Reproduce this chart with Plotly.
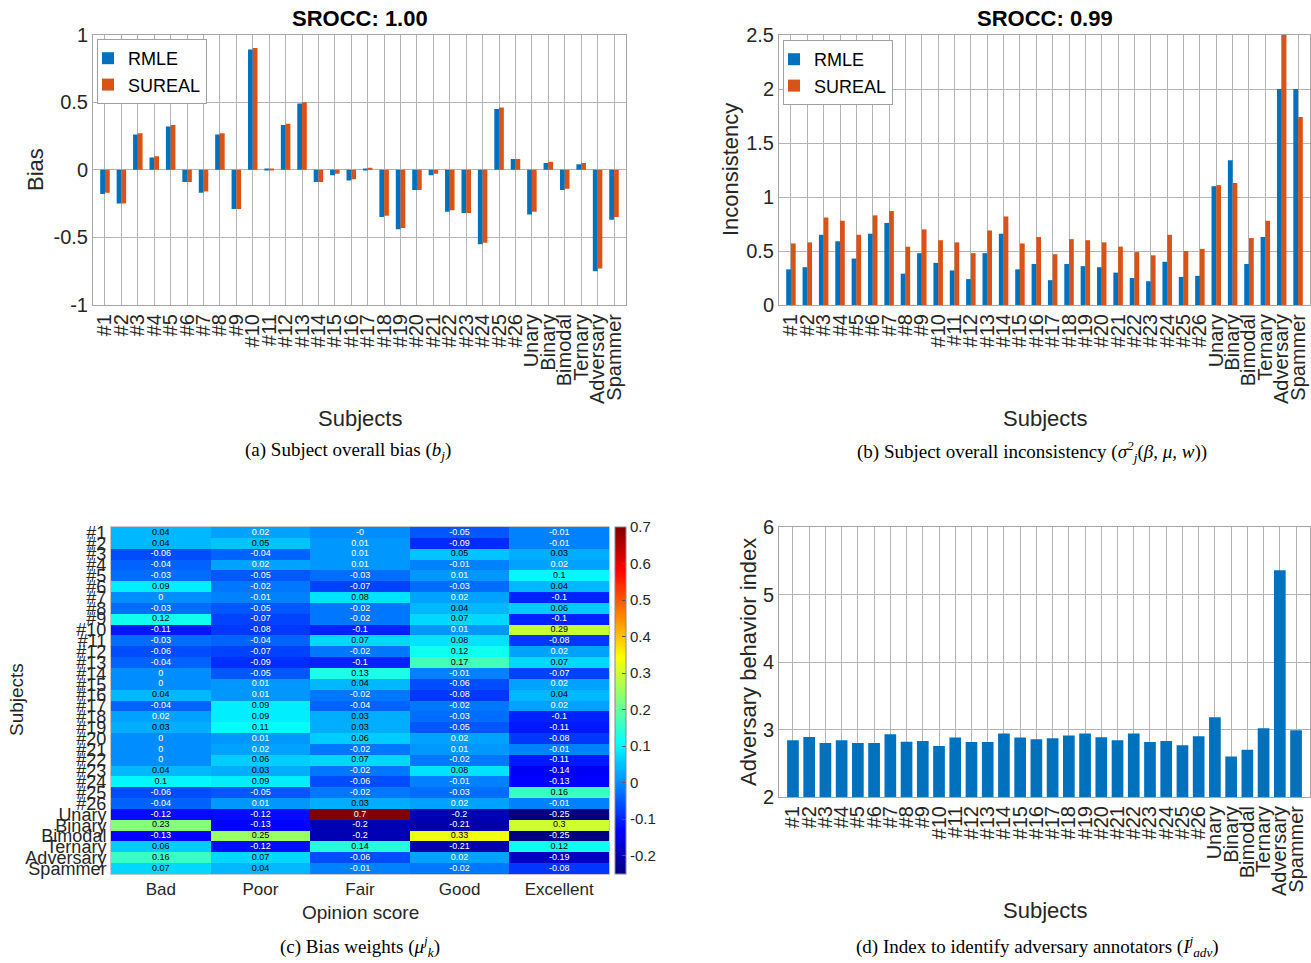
import plotly.graph_objects as go

# ---------------- data ----------------
subjects = ["#1", "#2", "#3", "#4", "#5", "#6", "#7", "#8", "#9", "#10",
            "#11", "#12", "#13", "#14", "#15", "#16", "#17", "#18", "#19", "#20",
            "#21", "#22", "#23", "#24", "#25", "#26",
            "Unary", "Binary", "Bimodal", "Ternary", "Adversary", "Spammer"]

bias_rmle = [-0.18, -0.25, 0.26, 0.09, 0.32, -0.09, -0.17, 0.26, -0.29, 0.89,
             0.01, 0.33, 0.49, -0.09, -0.04, -0.08, 0.01, -0.35, -0.44, -0.15,
             -0.04, -0.31, -0.32, -0.55, 0.45, 0.08,
             -0.33, 0.05, -0.15, 0.04, -0.75, -0.37]
bias_sureal = [-0.17, -0.25, 0.27, 0.10, 0.33, -0.09, -0.16, 0.27, -0.29, 0.90,
               0.01, 0.34, 0.50, -0.09, -0.03, -0.07, 0.015, -0.34, -0.43, -0.15,
               -0.03, -0.30, -0.32, -0.54, 0.46, 0.08,
               -0.31, 0.06, -0.14, 0.05, -0.73, -0.35]

incons_rmle = [0.33, 0.35, 0.65, 0.59, 0.43, 0.66, 0.76, 0.29, 0.48, 0.39,
               0.32, 0.24, 0.48, 0.66, 0.33, 0.38, 0.23, 0.38, 0.36, 0.35,
               0.30, 0.25, 0.22, 0.40, 0.26, 0.27,
               1.10, 1.34, 0.38, 0.63, 2.00, 2.00]
incons_sureal = [0.57, 0.58, 0.81, 0.78, 0.65, 0.83, 0.87, 0.54, 0.70, 0.60,
                 0.58, 0.48, 0.69, 0.82, 0.57, 0.63, 0.47, 0.61, 0.60, 0.58,
                 0.54, 0.49, 0.46, 0.65, 0.50, 0.52,
                 1.11, 1.13, 0.62, 0.78, 2.50, 1.74]

adv_index = [2.84, 2.89, 2.80, 2.84, 2.80, 2.80, 2.93, 2.82, 2.83, 2.755,
             2.88, 2.815, 2.815, 2.94, 2.88, 2.855, 2.87, 2.91, 2.94, 2.885,
             2.84, 2.94, 2.815, 2.83, 2.765, 2.90,
             3.18, 2.60, 2.70, 3.02, 5.36, 2.99]

opinion_scores = ["Bad", "Poor", "Fair", "Good", "Excellent"]
bias_weights = [
    [0.04, 0.02, -0.0, -0.05, -0.01],
    [0.04, 0.05, 0.01, -0.09, -0.01],
    [-0.06, -0.04, 0.01, 0.05, 0.03],
    [-0.04, 0.02, 0.01, -0.01, 0.02],
    [-0.03, -0.05, -0.03, 0.01, 0.1],
    [0.09, -0.02, -0.07, -0.03, 0.04],
    [0, -0.01, 0.08, 0.02, -0.1],
    [-0.03, -0.05, -0.02, 0.04, 0.06],
    [0.12, -0.07, -0.02, 0.07, -0.1],
    [-0.11, -0.08, -0.1, 0.01, 0.29],
    [-0.03, -0.04, 0.07, 0.08, -0.08],
    [-0.06, -0.07, -0.02, 0.12, 0.02],
    [-0.04, -0.09, -0.1, 0.17, 0.07],
    [0, -0.05, 0.13, -0.01, -0.07],
    [0, 0.01, 0.04, -0.06, 0.02],
    [0.04, 0.01, -0.02, -0.08, 0.04],
    [-0.04, 0.09, -0.04, -0.02, 0.02],
    [0.02, 0.09, 0.03, -0.03, -0.1],
    [0.03, 0.11, 0.03, -0.05, -0.11],
    [0, 0.01, 0.06, 0.02, -0.08],
    [0, 0.02, -0.02, 0.01, -0.01],
    [0, 0.06, 0.07, -0.02, -0.11],
    [0.04, 0.03, -0.02, 0.08, -0.14],
    [0.1, 0.09, -0.06, -0.01, -0.13],
    [-0.06, -0.05, -0.02, -0.03, 0.16],
    [-0.04, 0.01, 0.03, 0.02, -0.01],
    [-0.12, -0.12, 0.7, -0.2, -0.25],
    [0.23, -0.13, -0.2, -0.21, 0.3],
    [-0.13, 0.25, -0.2, 0.33, -0.25],
    [0.06, -0.12, 0.14, -0.21, 0.12],
    [0.16, 0.07, -0.06, 0.02, -0.19],
    [0.07, 0.04, -0.01, -0.02, -0.08],
]

cbar_ticks = [-0.2, -0.1, 0, 0.1, 0.2, 0.3, 0.4, 0.5, 0.6, 0.7]

# ---------------- style ----------------
W, H = 1311, 963
BLUE = "#0072BD"
ORANGE = "#D95319"
GRID = "#b4b4b4"
LINE = "#a6a6a6"
FONT = "Liberation Sans, Arial, sans-serif"
SERIF = "Liberation Serif, Times New Roman, serif"
jet = [[0.0, "rgb(0,0,128)"], [0.125, "rgb(0,0,255)"], [0.375, "rgb(0,255,255)"],
       [0.625, "rgb(255,255,0)"], [0.875, "rgb(255,0,0)"], [1.0, "rgb(128,0,0)"]]


def px_x(p):
    return p / W


def px_y(p):
    return 1 - p / H


fig = go.Figure()

# (a) bias
fig.add_trace(go.Bar(x=subjects, y=bias_rmle, name="RMLE", marker_color=BLUE,
                     marker_line_width=0, width=0.29, offset=-0.29,
                     xaxis="x", yaxis="y", legend="legend"))
fig.add_trace(go.Bar(x=subjects, y=bias_sureal, name="SUREAL", marker_color=ORANGE,
                     marker_line_width=0, width=0.29, offset=0.0,
                     xaxis="x", yaxis="y", legend="legend"))
# (b) inconsistency
fig.add_trace(go.Bar(x=subjects, y=incons_rmle, name="RMLE", marker_color=BLUE,
                     marker_line_width=0, width=0.29, offset=-0.29,
                     xaxis="x2", yaxis="y2", legend="legend2"))
fig.add_trace(go.Bar(x=subjects, y=incons_sureal, name="SUREAL", marker_color=ORANGE,
                     marker_line_width=0, width=0.29, offset=0.0,
                     xaxis="x2", yaxis="y2", legend="legend2"))
# (c) heatmap
fig.add_trace(go.Heatmap(
    z=bias_weights, x=opinion_scores, y=subjects, colorscale=jet,
    zmin=-0.25, zmax=0.7, xaxis="x3", yaxis="y3", showscale=True,
    colorbar=dict(x=px_x(615), xanchor="left", y=(px_y(527) + px_y(874)) / 2,
                  yanchor="middle", len=(874 - 527) / H, lenmode="fraction",
                  xpad=0, ypad=0,
                  thickness=11, outlinecolor="#888888", outlinewidth=1,
                  tickvals=cbar_ticks, ticktext=[f"{t:g}" for t in cbar_ticks],
                  ticks="inside", ticklen=4, tickcolor="#555",
                  tickfont=dict(size=15, family=FONT, color="#262626")),
    hoverinfo="skip"))

bx, by, bt, wx, wy, wt = [], [], [], [], [], []
for r, subj in enumerate(subjects):
    for c, op in enumerate(opinion_scores):
        v = bias_weights[r][c]
        label = f"{v:g}"
        if 0.025 <= v < 0.6:
            bx.append(op); by.append(subj); bt.append(label)
        else:
            wx.append(op); wy.append(subj); wt.append(label)
fig.add_trace(go.Scatter(x=bx, y=by, text=bt, mode="text", xaxis="x3", yaxis="y3",
                         textfont=dict(size=9, color="black", family=FONT),
                         showlegend=False, hoverinfo="skip"))
fig.add_trace(go.Scatter(x=wx, y=wy, text=wt, mode="text", xaxis="x3", yaxis="y3",
                         textfont=dict(size=9, color="white", family=FONT),
                         showlegend=False, hoverinfo="skip"))

# (d) adversary index
fig.add_trace(go.Bar(x=subjects, y=adv_index, marker_color=BLUE, marker_line_width=0,
                     width=0.72, xaxis="x4", yaxis="y4", showlegend=False))

common_x = dict(type="category", tickangle=-90, tickfont=dict(size=20, family=FONT, color="#262626"),
                showgrid=True, gridcolor=GRID, gridwidth=1, showline=True, mirror=True,
                linecolor=LINE, linewidth=1, ticks="", automargin=False,
                tickmode="array", tickvals=subjects, ticktext=subjects)
common_y = dict(tickfont=dict(size=20, family=FONT, color="#262626"), showgrid=True,
                gridcolor=GRID, gridwidth=1, showline=True, mirror=True, linecolor=LINE,
                linewidth=1, zeroline=False, ticks="", automargin=False)

legend_style = dict(xanchor="left", yanchor="top", bgcolor="white", bordercolor="#a0a0a0",
                    borderwidth=1, font=dict(size=18, family=FONT, color="black"),
                    tracegroupgap=0, itemwidth=30, indentation=-10)

fig.update_layout(
    width=W, height=H, margin=dict(l=0, r=0, t=0, b=0),
    paper_bgcolor="white", plot_bgcolor="white",
    barmode="overlay", font=dict(family=FONT, color="#262626"),
    xaxis=dict(domain=[px_x(93), px_x(626)], anchor="y", range=[-0.73, 31.73], **common_x),
    yaxis=dict(domain=[px_y(305), px_y(34.5)], anchor="x", range=[-1, 1],
               tickvals=[-1, -0.5, 0, 0.5, 1], ticktext=["-1", "-0.5", "0", "0.5", "1"], **common_y),
    xaxis2=dict(domain=[px_x(779), px_x(1310)], anchor="y2", range=[-0.73, 31.73], **common_x),
    yaxis2=dict(domain=[px_y(305), px_y(35)], anchor="x2", range=[0, 2.5],
                tickvals=[0, 0.5, 1, 1.5, 2, 2.5], ticktext=["0", "0.5", "1", "1.5", "2", "2.5"], **common_y),
    xaxis3=dict(domain=[px_x(111), px_x(609)], anchor="y3", type="category",
                range=[-0.5, 4.5],
                tickfont=dict(size=17, family=FONT, color="#262626"), showgrid=False,
                showline=True, mirror=True, linecolor="#c8c8c8", ticks="", automargin=False),
    yaxis3=dict(domain=[px_y(874), px_y(527)], anchor="x3", type="category",
                range=[31.5, -0.5], tickmode="array", tickvals=subjects, ticktext=subjects,
                tickfont=dict(size=18, family=FONT, color="#262626"), showgrid=False,
                showline=True, mirror=True, linecolor="#c8c8c8", ticks="", automargin=False),
    xaxis4=dict(domain=[px_x(779), px_x(1310)], anchor="y4", range=[-0.86, 31.86], **common_x),
    yaxis4=dict(domain=[px_y(797), px_y(527)], anchor="x4", range=[2, 6],
                tickvals=[2, 3, 4, 5, 6], **common_y),
    legend=dict(x=px_x(97), y=px_y(39), **legend_style),
    legend2=dict(x=px_x(783), y=px_y(40), **legend_style),
)

ann = []


def add_text(text, x, y, size, angle=0, family=FONT, bold=False, color="#262626"):
    if bold:
        text = f"<b>{text}</b>"
    ann.append(dict(text=text, x=px_x(x), y=px_y(y), xref="paper", yref="paper",
                    showarrow=False, textangle=angle, xanchor="center", yanchor="middle",
                    font=dict(size=size, family=family, color=color)))


add_text("SROCC: 1.00", 360, 19, 22, bold=True, color="black")
add_text("SROCC: 0.99", 1045, 19, 22, bold=True, color="black")
add_text("Bias", 36, 170, 22, angle=-90)
add_text("Inconsistency", 731, 170, 22, angle=-90)
add_text("Subjects", 360, 418, 22)
add_text("Subjects", 1045, 418, 22)
add_text("(a) Subject overall bias (<i>b<sub>j</sub></i>)", 348, 451, 19, family=SERIF, color="black")
add_text("(b) Subject overall inconsistency (<i>σ<sup>2</sup><sub>j</sub></i>(<i>β, μ, w</i>))",
         1032, 451, 19, family=SERIF, color="black")
add_text("Subjects", 16, 700, 19, angle=-90)
add_text("Opinion score", 360, 912, 19)
add_text("(c) Bias weights (<i>μ<sup>j</sup><sub>k</sub></i>)", 360, 946, 19, family=SERIF, color="black")
add_text("Adversary behavior index", 748, 662, 22, angle=-90)
add_text("Subjects", 1045, 910, 22)
add_text("(d) Index to identify adversary annotators (<i>I<sup>j</sup><sub>adv</sub></i>)",
         1037, 946, 19, family=SERIF, color="black")

fig.update_layout(annotations=ann)
fig.write_html("out.html", config={"displayModeBar": False},
               post_script="document.body.style.margin='0';document.body.style.overflow='hidden';")
